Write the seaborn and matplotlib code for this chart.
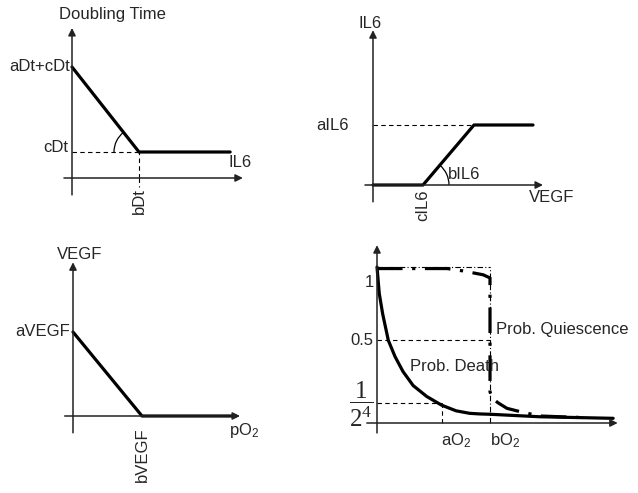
import numpy as np
import seaborn as sns
import matplotlib.pyplot as plt
from matplotlib.patches import Arc

# panel 1: doubling time vs IL6
dt_il6 = [0.0, 1.0, 2.36]
dt_time = [4.27, 1.0, 1.0]

# panel 2: IL6 vs VEGF
il6_vegf = [0.0, 1.0, 2.02, 3.2]
il6_level = [0.0, 0.0, 1.0, 1.0]

# panel 3: VEGF vs pO2
vegf_po2 = [0.0, 1.0, 2.36]
vegf_level = [1.0, 0.0, 0.0]

# panel 4: probabilities vs O2
death_o2 = [0.0, 0.02, 0.05, 0.10, 0.16, 0.23, 0.32, 0.44, 0.57, 0.70, 0.82, 0.91,
            1.0, 1.44, 2.09]
death_p = [1.0, 0.83, 0.70, 0.53, 0.425, 0.33, 0.24, 0.17, 0.115, 0.078, 0.062, 0.058,
           0.056, 0.04, 0.03]
quies_o2 = [0.0, 0.62, 0.76, 0.94, 1.0, 1.0, 1.02, 1.07, 1.15, 1.27, 1.44, 1.81]
quies_p = [0.99, 0.99, 0.975, 0.95, 0.93, 0.2, 0.16, 0.13, 0.094, 0.072, 0.045, 0.035]
p_levels = [1.0, 0.53, 0.13]
o2_ticks = [0.575, 1.0]

sns.set_theme(style="white")
plt.rcParams['font.family'] = ['Liberation Sans', 'DejaVu Sans']
plt.rcParams['mathtext.default'] = 'regular'

W, H = 638, 493
fig = plt.figure(figsize=(W / 100, H / 100), dpi=100)
AX_COLOR = '#222222'
FS = 12


def panel(origin, scale, xr, yr):
    # full-figure transparent axes whose data origin sits at `origin` (px, from top)
    ox, oy = origin
    sx, sy = scale
    ax = fig.add_axes([0, 0, 1, 1])
    ax.set_xlim(-ox / sx, (W - ox) / sx)
    ax.set_ylim(-(H - oy) / sy, oy / sy)
    ax.axis('off')
    ax.patch.set_alpha(0)
    arrow = dict(arrowstyle='-|>', lw=1.1, color=AX_COLOR, mutation_scale=11,
                 shrinkA=0, shrinkB=0)
    ax.annotate('', xy=(xr[1], 0), xytext=(xr[0], 0), arrowprops=arrow,
                annotation_clip=False)
    ax.annotate('', xy=(0, yr[1]), xytext=(0, yr[0]), arrowprops=arrow,
                annotation_clip=False)
    return ax


def angle_arc(ax, center, r_px, t1, t2, scale):
    # circle of r_px pixels; theta given as angles in data space
    sx, sy = scale
    ax.add_patch(Arc(center, 2 * r_px / sx, 2 * r_px / sy, theta1=t1, theta2=t2,
                     color='black', lw=0.9))


thick = dict(color='black', lw=2.3, estimator=None, sort=False)
dash = dict(color='black', lw=0.8, linestyle=(0, (4, 3)))
dashdot = dict(color='black', lw=0.8, linestyle=(0, (5, 2, 1, 2)))

# ---- panel 1 ----
s1 = (67, 26)
ax1 = panel((72, 178), s1, (-0.12, 2.55), (-0.65, 5.77))
sns.lineplot(x=dt_il6, y=dt_time, ax=ax1, **thick)
ax1.plot([0, dt_il6[1]], [dt_time[1]] * 2, **dash)
ax1.plot([dt_il6[1]] * 2, [0, dt_time[1]], **dash)
ax1.plot([dt_il6[1]] * 2, [0, -0.35], **dash)
ang1 = np.degrees(np.arctan2(dt_time[0] - dt_time[1], dt_il6[0] - dt_il6[1]))
angle_arc(ax1, (dt_il6[1], dt_time[1]), 25, ang1, 180, s1)
ax1.text(0.6, 6.27, 'Doubling Time', fontsize=FS, ha='center', va='center')
ax1.text(-0.03, dt_time[0], 'aDt+cDt', fontsize=FS, ha='right', va='center')
ax1.text(-0.06, dt_time[1], 'cDt', fontsize=FS, ha='right', va='baseline')
ax1.text(2.34, 0.58, 'IL6', fontsize=FS, ha='left', va='center')
ax1.text(dt_il6[1], -0.88, 'bDt', fontsize=FS, ha='center', va='center', rotation=90)

# ---- panel 2 ----
s2 = (50, 60)
ax2 = panel((373, 185), s2, (-0.16, 3.4), (-0.28, 2.58))
sns.lineplot(x=il6_vegf, y=il6_level, ax=ax2, **thick)
ax2.plot([0, il6_vegf[2]], [il6_level[2]] * 2, **dash)
ang2 = np.degrees(np.arctan2(il6_level[2] - il6_level[1], il6_vegf[2] - il6_vegf[1]))
angle_arc(ax2, (il6_vegf[1], 0), 26, 0, ang2, s2)
ax2.text(-0.06, 2.7, 'IL6', fontsize=FS, ha='center', va='center')
ax2.text(-0.48, il6_level[2], 'aIL6', fontsize=FS, ha='right', va='center')
ax2.text(il6_vegf[1], -0.33, 'cIL6', fontsize=FS, ha='center', va='center', rotation=90)
ax2.text(1.5, 0.17, 'bIL6', fontsize=FS, ha='left', va='center')
ax2.text(3.12, -0.2, 'VEGF', fontsize=FS, ha='left', va='center')

# ---- panel 3 ----
s3 = (69, 84)
ax3 = panel((73, 416), s3, (-0.12, 2.42), (-0.2, 1.83))
sns.lineplot(x=vegf_po2, y=vegf_level, ax=ax3, **thick)
ax3.text(0.1, 1.92, 'VEGF', fontsize=FS, ha='center', va='center')
ax3.text(-0.04, vegf_level[0], 'aVEGF', fontsize=FS, ha='right', va='center')
ax3.text(vegf_po2[1], -0.46, 'bVEGF', fontsize=FS, ha='center', va='center', rotation=90)
ax3.text(2.26, -0.17, 'pO$_2$', fontsize=FS, ha='left', va='center')

# ---- panel 4 ----
s4 = (113, 156)
ax4 = panel((377, 423), s4, (-0.09, 2.13), (-0.064, 1.14))
ax4.plot([0, o2_ticks[1]], [p_levels[0]] * 2, **dashdot)
ax4.plot([o2_ticks[1]] * 2, [0, p_levels[0]], **dashdot)
ax4.plot([0, o2_ticks[1]], [p_levels[1]] * 2, **dash)
ax4.plot([0, o2_ticks[0]], [p_levels[2]] * 2, **dash)
ax4.plot([o2_ticks[0]] * 2, [0, p_levels[2]], **dash)
sns.lineplot(x=death_o2, y=death_p, ax=ax4, **thick)
sns.lineplot(x=quies_o2, y=quies_p, ax=ax4, color='black', lw=2.3, estimator=None,
             sort=False, linestyle=(0, (8, 3, 1, 3)))
ax4.text(-0.027, 0.9, '1', fontsize=FS, ha='right', va='center')
ax4.text(-0.035, p_levels[1], '0.5', fontsize=FS, ha='right', va='center')
ax4.text(-0.14, p_levels[2] - 0.01, r'$\dfrac{1}{2^4}$', fontsize=18, ha='center',
         va='center', family='Liberation Serif')
ax4.text(0.29, 0.36, 'Prob. Death', fontsize=FS, ha='left', va='center')
ax4.text(1.05, 0.6, 'Prob. Quiescence', fontsize=FS, ha='left', va='center')
ax4.text(o2_ticks[0] - 0.01, -0.115, 'aO$_2$', fontsize=FS, ha='left', va='center')
ax4.text(o2_ticks[1], -0.115, 'bO$_2$', fontsize=FS, ha='left', va='center')

fig.savefig('out.png', dpi=100)
